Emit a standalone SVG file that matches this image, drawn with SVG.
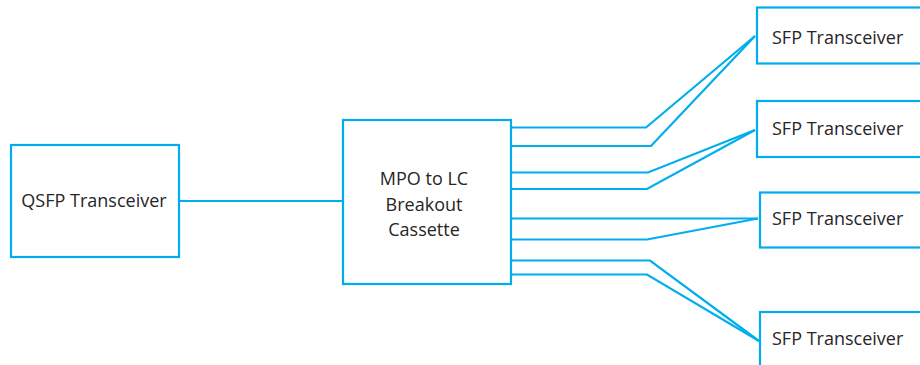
<svg xmlns="http://www.w3.org/2000/svg" width="920" height="365" viewBox="0 0 920 365">
<style>
.box{fill:#fff;stroke:#00AEEF;stroke-width:2.2}
.ln{fill:none;stroke:#00AEEF;stroke-width:2.2;stroke-linejoin:miter}
text{font-family:"Open Sans","Noto Sans","Liberation Sans",sans-serif;font-size:18px;fill:#262626}
</style>
<rect width="920" height="365" fill="#fff"/>
<g id="connectors">
<line class="ln" x1="180" y1="201" x2="343" y2="201"/>
<polyline class="ln" points="511,127.5 646,127.5 755,36"/>
<polyline class="ln" points="511,146 651,146 755,36"/>
<polyline class="ln" points="511,172.5 648,172.5 755,130"/>
<polyline class="ln" points="511,189 647,189 755,130"/>
<polyline class="ln" points="511,218.5 758,218.5"/>
<polyline class="ln" points="511,239.5 647,239.5 758,218.5"/>
<polyline class="ln" points="511,260.5 650,260.5 759,341"/>
<polyline class="ln" points="511,274.5 647,274.5 759,341"/>
</g>
<g id="qsfp">
<rect class="box" x="11" y="145" width="168" height="112"/>
<text x="94" y="207" text-anchor="middle">QSFP Transceiver</text>
</g>
<g id="cassette">
<rect class="box" x="343" y="120" width="168" height="164"/>
<text x="424" y="184.5" text-anchor="middle">MPO to LC</text>
<text x="424" y="211" text-anchor="middle">Breakout</text>
<text x="424" y="235.5" text-anchor="middle">Cassette</text>
</g>
<g id="sfp1">
<rect class="box" x="757" y="7.5" width="180" height="56"/>
<text x="772" y="44">SFP Transceiver</text>
</g>
<g id="sfp2">
<rect class="box" x="757" y="101" width="180" height="56"/>
<text x="772" y="135">SFP Transceiver</text>
</g>
<g id="sfp3">
<rect class="box" x="760" y="192.5" width="180" height="55"/>
<text x="772" y="225">SFP Transceiver</text>
</g>
<g id="sfp4">
<rect class="box" x="760" y="312" width="180" height="70"/>
<text x="772" y="345">SFP Transceiver</text>
</g>
</svg>
